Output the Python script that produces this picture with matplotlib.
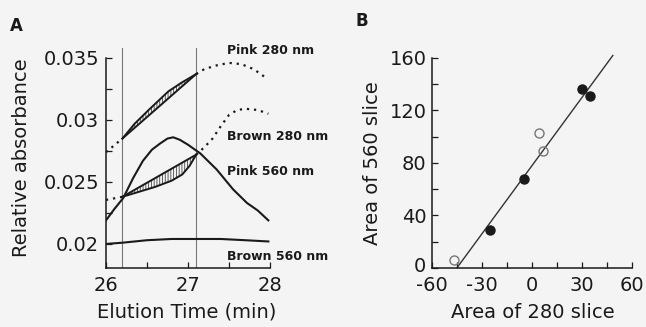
import matplotlib.pyplot as plt
import matplotlib.transforms as mtransforms
import numpy as np

plt.rcParams['font.family'] = ['DejaVu Sans']
plt.rcParams['axes.unicode_minus'] = False
plt.rcParams['hatch.linewidth'] = 0.6
plt.rcParams['hatch.color'] = '#444444'

# ---- panel A data (elution time in min, relative absorbance) ----
slice_start = 26.2
slice_end = 27.1

pink280_left_x = [26.0, 26.2]
pink280_left_y = [0.0274, 0.0285]
pink280_chord_x = [26.2, 27.1]
pink280_chord_y = [0.0285, 0.0337]
pink280_x = [26.2, 26.35, 26.52, 26.76, 26.92, 27.1]
pink280_y = [0.0285, 0.0297, 0.0308, 0.0323, 0.0330, 0.0337]
pink280_right_x = [27.1, 27.2, 27.35, 27.5, 27.65, 27.8, 27.95]
pink280_right_y = [0.0337, 0.0341, 0.0344, 0.0346, 0.0345, 0.0341, 0.0334]

brown280_left_x = [26.0, 26.2]
brown280_left_y = [0.02355, 0.0238]
brown280_chord_x = [26.2, 27.1]
brown280_chord_y = [0.0238, 0.0272]
brown280_x = [26.2, 26.4, 26.6, 26.8, 26.93, 27.02, 27.1]
brown280_y = [0.0238, 0.0242, 0.0246, 0.0251, 0.0256, 0.0263, 0.0272]
brown280_right_x = [27.1, 27.2, 27.3, 27.4, 27.5, 27.6, 27.7, 27.85, 27.98]
brown280_right_y = [0.0272, 0.0278, 0.0285, 0.0295, 0.0304, 0.0308, 0.0309, 0.0308, 0.0305]

pink560_x = [26.0, 26.1, 26.21, 26.33, 26.45, 26.56, 26.66, 26.75, 26.82,
             26.9, 27.0, 27.15, 27.35, 27.55, 27.72, 27.85, 27.98]
pink560_y = [0.0219, 0.0228, 0.0237, 0.0253, 0.0267, 0.0276, 0.0281, 0.0285, 0.0286,
             0.0284, 0.0280, 0.0273, 0.0260, 0.0244, 0.0233, 0.0227, 0.0219]

brown560_x = [26.0, 26.2, 26.5, 26.8, 27.1, 27.4, 27.7, 27.98]
brown560_y = [0.0200, 0.0201, 0.0203, 0.0204, 0.0204, 0.0204, 0.0203, 0.0202]

curve_labels = ["Pink 280 nm", "Brown 280 nm", "Pink 560 nm", "Brown 560 nm"]
label_y = [0.03556, 0.02863, 0.02581, 0.01895]

# ---- panel B data (slice areas) ----
filled_x = [-25, -5, 30, 35]
filled_y = [29, 68, 136, 131]
open_x = [-47, 4, 6.5]
open_y = [6, 103, 89]
fit_slope = 1.73
fit_intercept = 78
fit_x = [-45, 48.5]

ink = '#1a1a1a'
fig = plt.figure(figsize=(6.46, 3.27), dpi=100, facecolor='#f4f4f4')

# panel A
axA = fig.add_axes([106/646, 1-268/327, 164/646, 220/327])
axA.set_facecolor('none')
axA.set_xlim(26, 28)
axA.set_ylim(0.01806, 0.0358)

for xv in [slice_start, slice_end]:
    axA.axvline(xv, color='#777777', lw=0.8)

dots = (0, (1, 2.2))
axA.plot(pink280_left_x, pink280_left_y, color=ink, lw=1.6, ls=dots)
axA.plot(pink280_chord_x, pink280_chord_y, color=ink, lw=1.4)
axA.plot(pink280_x, pink280_y, color=ink, lw=1.4)
axA.plot(pink280_right_x, pink280_right_y, color=ink, lw=1.6, ls=dots)
axA.fill_between(pink280_x, pink280_y, np.interp(pink280_x, pink280_chord_x, pink280_chord_y),
                 facecolor='none', edgecolor='#444444', lw=0, hatch='||||||')

axA.plot(brown280_left_x, brown280_left_y, color=ink, lw=1.6, ls=dots)
axA.plot(brown280_chord_x, brown280_chord_y, color=ink, lw=1.4)
axA.plot(brown280_x, brown280_y, color=ink, lw=1.4)
axA.plot(brown280_right_x, brown280_right_y, color=ink, lw=1.6, ls=dots)
axA.fill_between(brown280_x, brown280_y, np.interp(brown280_x, brown280_chord_x, brown280_chord_y),
                 facecolor='none', edgecolor='#444444', lw=0, hatch='||||||')

axA.plot(pink560_x, pink560_y, color=ink, lw=1.5)
axA.plot(brown560_x, brown560_y, color=ink, lw=1.5)

for txt, yv in zip(curve_labels, label_y):
    axA.text(27.48, yv, txt, fontsize=9, fontweight='bold', va='center', ha='left',
             color=ink, clip_on=False)

axA.spines['top'].set_visible(False)
axA.spines['right'].set_visible(False)
axA.spines['left'].set_bounds(0.01806, 0.035)
for s in ['left', 'bottom']:
    axA.spines[s].set_linewidth(1.1)
    axA.spines[s].set_color(ink)
axA.set_xticks([26, 27, 28])
axA.set_xticks([26.5, 27.5], minor=True)
axA.set_yticks([0.02, 0.025, 0.03, 0.035])
axA.set_yticklabels(['0.02', '0.025', '0.03', '0.035'])
axA.set_yticks([0.0225, 0.0275, 0.0325], minor=True)
axA.tick_params(which='both', direction='in', length=4, width=0.9, colors=ink, labelsize=14)
axA.tick_params(axis='x', pad=6)
axA.tick_params(axis='y', pad=5)
fig.text(187/646, 1-312/327, "Elution Time (min)", fontsize=14, ha='center', va='center', color=ink)
fig.text(22/646, 1-158/327, "Relative absorbance", fontsize=14, rotation=90,
         ha='center', va='center', color=ink)
fig.text(16/646, 1-26/327, "A", fontsize=12, fontweight='bold', ha='center', va='center', color=ink)

# panel B
axB = fig.add_axes([432/646, 1-268/327, 200/646, 216.6/327])
axB.set_facecolor('none')
axB.set_xlim(-60, 60)
axB.set_ylim(0, 165)
line_x = np.array(fit_x)
axB.plot(line_x, fit_slope*line_x + fit_intercept, color='#333333', lw=1.0)
axB.plot(filled_x, filled_y, 'o', ms=6.5, color=ink, clip_on=False)
axB.plot(open_x, open_y, 'o', ms=6.5, mfc='none', mec='#777777', mew=1.0, clip_on=False)

axB.spines['top'].set_visible(False)
axB.spines['right'].set_visible(False)
axB.spines['left'].set_bounds(0, 160)
for s in ['left', 'bottom']:
    axB.spines[s].set_linewidth(1.1)
    axB.spines[s].set_color(ink)
axB.set_xticks([-60, -30, 0, 30, 60])
axB.set_xticks([-45, -15, 15, 45], minor=True)
axB.set_yticks([0, 40, 80, 120, 160])
axB.set_yticks([20, 60, 100, 140], minor=True)
axB.tick_params(which='both', direction='in', length=4, width=0.9, colors=ink, labelsize=14)
axB.tick_params(axis='x', pad=6)
axB.tick_params(axis='y', pad=4)
# lift the "0" on the y axis a little so it clears the "-60"
zero_lbl = axB.get_yticklabels()[0]
zero_lbl.set_transform(zero_lbl.get_transform() +
                       mtransforms.ScaledTranslation(0, 3/100, fig.dpi_scale_trans))
fig.text(533/646, 1-312/327, "Area of 280 slice", fontsize=14, ha='center', va='center', color=ink)
fig.text(373/646, 1-163/327, "Area of 560 slice", fontsize=14, rotation=90,
         ha='center', va='center', color=ink)
fig.text(362/646, 1-21/327, "B", fontsize=12, fontweight='bold', ha='center', va='center', color=ink)

fig.savefig("out.png", dpi=100, facecolor=fig.get_facecolor())
